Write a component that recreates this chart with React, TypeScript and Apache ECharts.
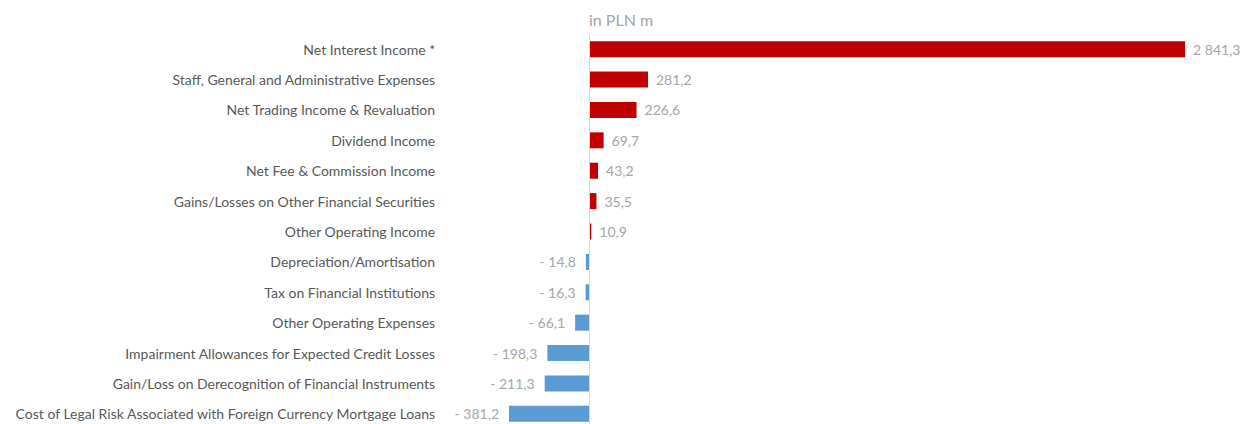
import React, { useEffect, useRef } from "react";
import * as echarts from "echarts";

const categories = [
  "Net Interest Income *",
  "Staff, General and Administrative Expenses",
  "Net Trading Income & Revaluation",
  "Dividend Income",
  "Net Fee & Commission Income",
  "Gains/Losses on Other Financial Securities",
  "Other Operating Income",
  "Depreciation/Amortisation",
  "Tax on Financial Institutions",
  "Other Operating Expenses",
  "Impairment Allowances for Expected Credit Losses",
  "Gain/Loss on Derecognition of Financial Instruments",
  "Cost of Legal Risk Associated with Foreign Currency Mortgage Loans",
];

const values = [2841.3, 281.2, 226.6, 69.7, 43.2, 35.5, 10.9, -14.8, -16.3, -66.1, -198.3, -211.3, -381.2];

const titleText = "in PLN m";

function fmt(v: number): string {
  const abs = Math.abs(v);
  const parts = abs.toFixed(1).split(".");
  const intPart = parts[0].replace(/\B(?=(\d{3})+(?!\d))/g, " ");
  const s = intPart + "," + parts[1];
  return v < 0 ? "- " + s : s;
}

export default function App() {
  const ref = useRef<HTMLDivElement>(null);
  useEffect(() => {
    if (!ref.current) return;
    const chart = echarts.init(ref.current, undefined, { renderer: "svg" });
    const font = "Lato";
    chart.setOption({
      animation: false,
      title: {
        text: titleText,
        left: 584,
        top: 6,
        textStyle: { fontFamily: font, fontSize: 16, fontWeight: "normal", color: "#a6a6a6" },
      },
      grid: { left: 484.1, right: 23.6, top: 34, bottom: -5, outerBoundsMode: "none", containLabel: false },
      xAxis: {
        type: "value",
        min: -500,
        max: 3000,
        show: false,
      },
      yAxis: {
        type: "category",
        data: categories,
        inverse: true,
        axisLine: { show: false, onZero: false },
        axisTick: { show: false },
        axisLabel: {
          margin: 49,
          fontFamily: font,
          fontSize: 14,
          color: "#595959",
        },
      },
      series: [
        {
          type: "bar",
          barWidth: 16,
          data: values.map((v) => ({
            value: v,
            itemStyle: { color: v >= 0 ? "#C00000" : "#5B9BD5" },
            label: {
              show: true,
              position: v >= 0 ? "right" : "left",
              distance: v >= 0 ? 8 : 10,
              formatter: () => fmt(v),
              fontFamily: font,
              fontSize: 14,
              color: "#a6a6a6",
            },
          })),
          markLine: {
            silent: true,
            symbol: "none",
            label: { show: false },
            lineStyle: { color: "#d9d9d9", type: "solid", width: 1 },
            data: [{ xAxis: 0 }],
          },
        },
      ],
    });
    return () => chart.dispose();
  }, []);
  return (
    <div
      ref={ref}
      style={{ position: "absolute", left: 0, top: 0, width: 1242, height: 424 }}
    />
  );
}
